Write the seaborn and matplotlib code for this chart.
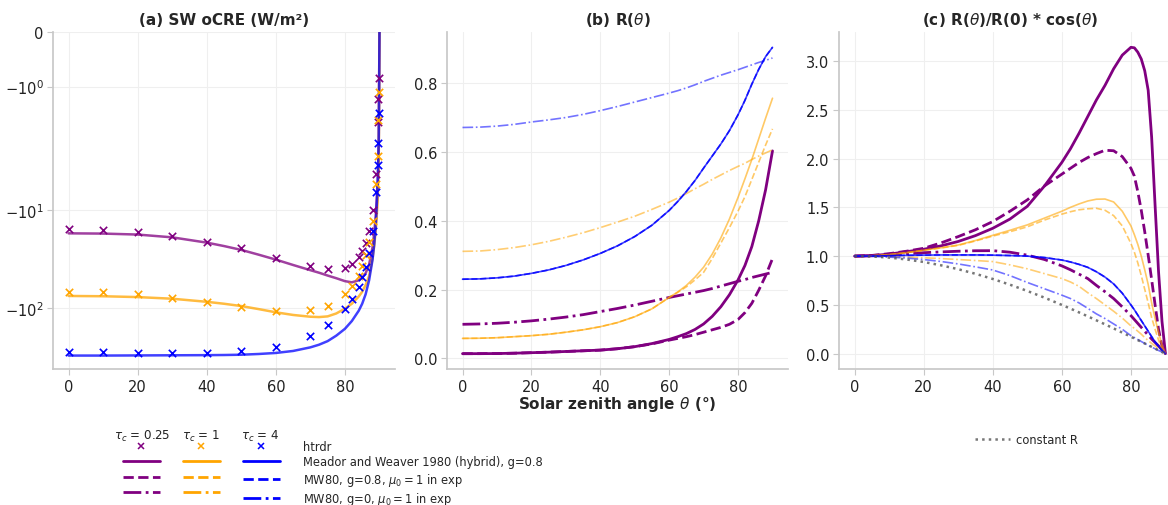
import numpy as np
import pandas as pd
import matplotlib
matplotlib.use("Agg")
import matplotlib.pyplot as plt
from matplotlib.lines import Line2D
from matplotlib.ticker import FixedLocator, NullLocator
import seaborn as sns

# ---------------- data ----------------
tau_labels = ["0.25", "1", "4"]
colors = ["#800080", "#FFA500", "#0000FF"]

# (a) htrdr points
theta_htrdr = [0, 10, 20, 30, 40, 50, 60, 70, 75, 80, 82, 84, 85, 86, 87, 88, 89, 89.5, 89.7, 89.9]
htrdr_025 = [-15.6, -15.9, -16.7, -18.4, -21, -24.6, -30.6, -37.3, -39.8, -39, -35.5, -30, -26.2, -21.5, -16.2, -10, -4.3, -1.64, -1.23, -0.84]
htrdr_1 = [-67.8, -69, -72, -78, -86, -96, -106, -105, -94, -71.5, -60, -46.5, -37.6, -29, -21.1, -13.1, -5.4, -2.8, -1.62, -1.09]
htrdr_4 = [-280, -280, -282, -284, -284, -272, -246, -191, -148, -101, -80.5, -60.4, -48.5, -38.5, -27.1, -16.4, -6.6, -3.5, -2.1, -1.49]

# (a) Meador & Weaver hybrid curves
theta_a = [0, 10, 20, 30, 40, 45, 50, 55, 60, 65, 70, 72.5, 75, 77.5, 80, 82, 84, 85, 86, 87, 88, 88.5, 89, 89.5, 89.8, 90]
mw_a_025 = [-17.3, -17.4, -17.8, -19, -21.5, -23.3, -25.5, -28.5, -32, -36.3, -41, -43.5, -46.5, -49.5, -53, -54.5, -52, -49, -44, -36, -24, -17, -10.5, -5, -2, 0]
mw_a_1 = [-75, -75.5, -77, -80, -86, -90, -95, -102, -110, -117, -122, -123, -121, -113, -101, -90, -76, -68, -58, -47, -31, -23, -15, -8, -3.2, 0]
mw_a_4 = [-303, -303, -302, -301, -300, -299, -297, -292, -285, -272, -250, -235, -216, -190, -162, -135, -106, -90, -72, -52, -32, -22, -13, -5.5, -2, 0]

# (b) R(theta)
theta_b = [0, 5, 10, 15, 20, 25, 30, 35, 40, 45, 50, 55, 60, 62.5, 65, 67.5, 70, 72.5, 75, 77.5, 80, 82, 84, 86, 88, 90]
R_hyb_025 = [0.0136, 0.0137, 0.014, 0.015, 0.0165, 0.018, 0.020, 0.022, 0.024, 0.028, 0.034, 0.043, 0.055, 0.063, 0.072, 0.084, 0.100, 0.122, 0.150, 0.185, 0.228, 0.27, 0.325, 0.40, 0.49, 0.603]
R_mu1_025 = [0.0136, 0.0137, 0.014, 0.015, 0.0165, 0.018, 0.020, 0.022, 0.024, 0.028, 0.034, 0.042, 0.053, 0.058, 0.063, 0.069, 0.076, 0.083, 0.090, 0.099, 0.113, 0.133, 0.16, 0.198, 0.24, 0.29]
R_g0_025 = [0.099, 0.100, 0.102, 0.105, 0.109, 0.114, 0.120, 0.127, 0.136, 0.145, 0.155, 0.166, 0.177, 0.182, 0.187, 0.192, 0.197, 0.203, 0.210, 0.217, 0.224, 0.229, 0.235, 0.240, 0.245, 0.250]
R_hyb_1 = [0.058, 0.0585, 0.060, 0.063, 0.066, 0.070, 0.076, 0.083, 0.092, 0.104, 0.121, 0.144, 0.177, 0.193, 0.212, 0.236, 0.265, 0.303, 0.35, 0.405, 0.468, 0.522, 0.578, 0.638, 0.698, 0.756]
R_mu1_1 = [0.058, 0.0585, 0.060, 0.063, 0.066, 0.070, 0.076, 0.083, 0.092, 0.104, 0.121, 0.144, 0.177, 0.192, 0.208, 0.228, 0.25, 0.29, 0.335, 0.38, 0.428, 0.47, 0.52, 0.57, 0.62, 0.667]
R_g0_1 = [0.311, 0.312, 0.316, 0.322, 0.330, 0.340, 0.352, 0.365, 0.380, 0.396, 0.413, 0.433, 0.454, 0.466, 0.479, 0.493, 0.506, 0.520, 0.533, 0.546, 0.558, 0.567, 0.578, 0.588, 0.597, 0.606]
R_hyb_4 = [0.230, 0.231, 0.234, 0.239, 0.247, 0.257, 0.270, 0.286, 0.305, 0.327, 0.354, 0.387, 0.430, 0.456, 0.485, 0.517, 0.553, 0.588, 0.623, 0.662, 0.708, 0.750, 0.797, 0.840, 0.877, 0.904]
R_mu1_4 = [0.230, 0.231, 0.234, 0.239, 0.247, 0.257, 0.270, 0.286, 0.305, 0.327, 0.354, 0.387, 0.430, 0.456, 0.485, 0.517, 0.553, 0.588, 0.623, 0.662, 0.708, 0.750, 0.797, 0.840, 0.877, 0.904]
R_g0_4 = [0.671, 0.672, 0.675, 0.680, 0.687, 0.693, 0.700, 0.709, 0.720, 0.732, 0.745, 0.758, 0.771, 0.778, 0.786, 0.795, 0.805, 0.814, 0.823, 0.831, 0.839, 0.846, 0.853, 0.860, 0.866, 0.873]

# (c) R(theta)/R(0)*cos(theta)
theta_c = [0, 5, 10, 15, 20, 25, 30, 35, 40, 45, 50, 55, 60, 62.5, 65, 67.5, 70, 72.5, 75, 77.5, 80, 81, 82, 83, 84, 85, 86, 87, 88, 89, 90]
N_hyb_025 = [1.0, 1.005, 1.02, 1.045, 1.07, 1.105, 1.15, 1.21, 1.285, 1.38, 1.51, 1.72, 1.96, 2.1, 2.26, 2.43, 2.6, 2.75, 2.92, 3.06, 3.14, 3.135, 3.09, 3.02, 2.9, 2.7, 2.22, 1.52, 0.84, 0.33, 0]
N_mu1_025 = [1.0, 1.007, 1.025, 1.05, 1.08, 1.135, 1.2, 1.27, 1.354, 1.46, 1.576, 1.72, 1.84, 1.9, 1.96, 2.01, 2.05, 2.085, 2.08, 2.02, 1.9, 1.82, 1.66, 1.47, 1.25, 1.01, 0.76, 0.50, 0.25, 0.08, 0]
N_g0_025 = [1.0, 1.003, 1.012, 1.023, 1.035, 1.043, 1.05, 1.055, 1.056, 1.04, 1.01, 0.965, 0.90, 0.86, 0.815, 0.77, 0.70, 0.635, 0.565, 0.48, 0.39, 0.35, 0.31, 0.27, 0.23, 0.19, 0.15, 0.115, 0.08, 0.04, 0]
N_hyb_1 = [1.0, 1.003, 1.015, 1.035, 1.06, 1.085, 1.114, 1.16, 1.213, 1.265, 1.32, 1.39, 1.46, 1.50, 1.535, 1.565, 1.583, 1.585, 1.555, 1.46, 1.31, 1.22, 1.12, 1.0, 0.86, 0.71, 0.52, 0.36, 0.22, 0.09, 0]
N_mu1_1 = [1.0, 1.003, 1.015, 1.035, 1.06, 1.083, 1.11, 1.155, 1.205, 1.25, 1.30, 1.37, 1.43, 1.455, 1.475, 1.485, 1.49, 1.47, 1.415, 1.31, 1.13, 1.04, 0.93, 0.80, 0.66, 0.52, 0.37, 0.25, 0.14, 0.05, 0]
N_g0_1 = [1.0, 0.999, 0.996, 0.99, 0.983, 0.975, 0.965, 0.955, 0.944, 0.91, 0.87, 0.82, 0.77, 0.735, 0.69, 0.625, 0.565, 0.50, 0.435, 0.365, 0.285, 0.26, 0.23, 0.20, 0.165, 0.135, 0.105, 0.08, 0.05, 0.025, 0]
N_hyb_4 = [1.0, 1.001, 1.004, 1.008, 1.01, 1.012, 1.012, 1.012, 1.01, 1.006, 1.0, 0.985, 0.96, 0.94, 0.915, 0.885, 0.84, 0.785, 0.715, 0.62, 0.50, 0.45, 0.395, 0.34, 0.285, 0.23, 0.175, 0.12, 0.075, 0.035, 0]
N_mu1_4 = [1.0, 1.001, 1.004, 1.008, 1.01, 1.012, 1.012, 1.012, 1.01, 1.006, 1.0, 0.985, 0.96, 0.94, 0.915, 0.885, 0.84, 0.785, 0.715, 0.62, 0.50, 0.45, 0.395, 0.34, 0.285, 0.23, 0.175, 0.12, 0.075, 0.035, 0]
N_g0_4 = [1.0, 0.997, 0.99, 0.98, 0.965, 0.945, 0.92, 0.89, 0.858, 0.80, 0.73, 0.665, 0.60, 0.565, 0.52, 0.465, 0.408, 0.36, 0.305, 0.25, 0.185, 0.165, 0.145, 0.125, 0.105, 0.085, 0.068, 0.05, 0.033, 0.017, 0]
N_constR = [1.0, 0.996, 0.985, 0.966, 0.94, 0.906, 0.866, 0.819, 0.766, 0.707, 0.643, 0.574, 0.5, 0.462, 0.423, 0.383, 0.342, 0.301, 0.259, 0.216, 0.174, 0.156, 0.139, 0.122, 0.105, 0.087, 0.07, 0.052, 0.035, 0.017, 0]

legend_labels = ["htrdr", "Meador and Weaver 1980 (hybrid), g=0.8",
                 r"MW80, g=0.8, $\mu_0 = 1$ in exp", r"MW80, g=0, $\mu_0 = 1$ in exp"]

# ---------------- style ----------------
sns.set_theme(style="ticks")
plt.rcParams["font.family"] = ["DejaVu Sans"]
plt.rcParams["axes.edgecolor"] = "#c8c8c8"
plt.rcParams["xtick.color"] = "#c8c8c8"
plt.rcParams["ytick.color"] = "#c8c8c8"
plt.rcParams["xtick.labelcolor"] = "#222222"
plt.rcParams["ytick.labelcolor"] = "#222222"
plt.rcParams["xtick.labelsize"] = 10.5
plt.rcParams["ytick.labelsize"] = 10.5

W, H = 1168, 506
fig = plt.figure(figsize=(W / 100, H / 100), dpi=100)

def axpos(left, right, top=33, bottom=370):
    return [left / W, 1 - bottom / H, (right - left) / W, (bottom - top) / H]

axA = fig.add_axes(axpos(53, 395))
axB = fig.add_axes(axpos(447, 788))
axC = fig.add_axes(axpos(839, 1181))

styles = ["-", "--", "-."]
lw_bc = [2.0, 1.2, 1.2]
alpha_bc = {(0, "-"): 1, (0, "--"): 1, (0, "-."): 1,
            (1, "-"): 0.6, (1, "--"): 0.6, (1, "-."): 0.55,
            (2, "-"): 0.75, (2, "--"): 0.75, (2, "-."): 0.55}

# ---- panel (a) ----
htrdr_sets = [htrdr_025, htrdr_1, htrdr_4]
mw_sets = [mw_a_025, mw_a_1, mw_a_4]
for i in range(3):
    sns.lineplot(x=theta_a, y=mw_sets[i], ax=axA, color=colors[i], lw=1.8, alpha=0.75, sort=False)
    axA.scatter(theta_htrdr, htrdr_sets[i], marker="x", color=colors[i], s=28, linewidths=1.2, zorder=3)

axA.set_yscale("symlog", linthresh=2)
axA.set_ylim(-415, 0)
axA.yaxis.set_major_locator(FixedLocator([-100, -10, -1, 0]))
axA.yaxis.set_minor_locator(NullLocator())
axA.set_yticklabels([r"$-10^{2}$", r"$-10^{1}$", r"$-10^{0}$", "0"])
axA.set_title("(a) SW oCRE (W/m²)", fontsize=11, fontweight="bold", pad=6)

# ---- panel (b) ----
Rsets = [[R_hyb_025, R_mu1_025, R_g0_025], [R_hyb_1, R_mu1_1, R_g0_1], [R_hyb_4, R_mu1_4, R_g0_4]]
for i in range(3):
    for j, ls in enumerate(styles):
        sns.lineplot(x=theta_b, y=Rsets[i][j], ax=axB, color=colors[i], lw=lw_bc[i],
                     ls=ls, alpha=alpha_bc[(i, ls)], sort=False)
axB.set_title(r"(b) R($\theta$)", fontsize=11, fontweight="bold", pad=6)
axB.set_yticks([0.0, 0.2, 0.4, 0.6, 0.8])

# ---- panel (c) ----
Nsets = [[N_hyb_025, N_mu1_025, N_g0_025], [N_hyb_1, N_mu1_1, N_g0_1], [N_hyb_4, N_mu1_4, N_g0_4]]
for i in range(3):
    for j, ls in enumerate(styles):
        sns.lineplot(x=theta_c, y=Nsets[i][j], ax=axC, color=colors[i], lw=lw_bc[i],
                     ls=ls, alpha=alpha_bc[(i, ls)], sort=False)
sns.lineplot(x=theta_c, y=N_constR, ax=axC, color="#555555", lw=1.8, ls=":", alpha=0.8,
             sort=False, label="constant R")
axC.set_title(r"(c) R($\theta$)/R(0) * cos($\theta$)", fontsize=11, fontweight="bold", pad=6)
axC.set_yticks([0.0, 0.5, 1.0, 1.5, 2.0, 2.5, 3.0])
axC.legend(loc="upper left", bbox_to_anchor=(975 / W, 1 - 434 / H), bbox_transform=fig.transFigure,
           frameon=False, fontsize=8.3, handlelength=3.0, handletextpad=0.6, borderpad=0,
           borderaxespad=0)

for ax in (axA, axB, axC):
    ax.set_xlim(-4.5, 94.5)
    ax.set_xticks([0, 20, 40, 60, 80])
    ax.grid(True, color="#efefef", lw=0.8)
    ax.tick_params(length=4, width=0.8, pad=3)
    sns.despine(ax=ax)
    ax.set_xlabel("")
    ax.set_ylabel("")
axB.set_xlabel(r"Solar zenith angle $\theta$ (°)", fontsize=11, fontweight="bold", labelpad=0)

# ---- bottom legend ----
handles, labels = [], []
for i in range(3):
    handles.append(Line2D([], [], color=colors[i], marker="x", ls="none", markersize=5, mew=1.1))
    for ls in styles:
        handles.append(Line2D([], [], color=colors[i], ls=ls, lw=2))
    if i < 2:
        labels += [""] * 4
    else:
        labels += legend_labels
fig.legend(handles, labels, ncol=3, loc="upper left", bbox_to_anchor=(123 / W, 1 - 441 / H),
           frameon=False, fontsize=8.3, handlelength=3.2, handletextpad=2.0, columnspacing=0.0,
           borderpad=0, borderaxespad=0, labelspacing=0.2)
for xc, lab in zip([141.7, 201, 260.5], tau_labels):
    fig.text(xc / W, 1 - 436 / H, r"$\tau_c$ = " + lab, ha="center", va="center", fontsize=8.6,
             color="#222222")

fig.savefig("out.png", dpi=100)
